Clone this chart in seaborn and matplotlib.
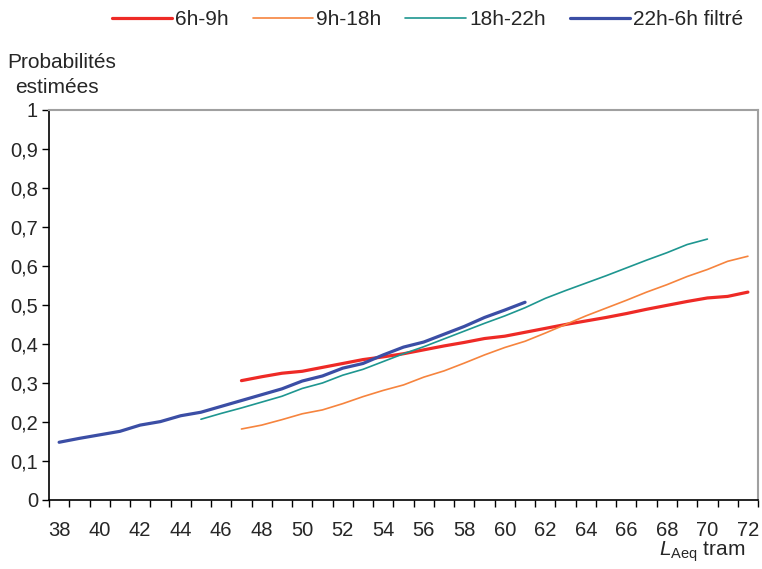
import pandas as pd
import matplotlib.pyplot as plt
import seaborn as sns

# --- Data ---
x_red = list(range(47, 73))
y_red = [0.306, 0.316, 0.325, 0.330, 0.340, 0.350, 0.360, 0.367, 0.375, 0.385,
         0.395, 0.404, 0.414, 0.420, 0.430, 0.440, 0.450, 0.459, 0.468, 0.478,
         0.489, 0.499, 0.509, 0.518, 0.522, 0.533]

x_orange = list(range(47, 73))
y_orange = [0.182, 0.192, 0.206, 0.221, 0.231, 0.247, 0.265, 0.281, 0.295, 0.315,
            0.331, 0.351, 0.372, 0.391, 0.407, 0.428, 0.450, 0.472, 0.492, 0.512,
            0.533, 0.552, 0.573, 0.591, 0.612, 0.625]

x_teal = list(range(45, 71))
y_teal = [0.207, 0.222, 0.236, 0.251, 0.266, 0.286, 0.300, 0.320, 0.335, 0.355,
          0.375, 0.393, 0.413, 0.433, 0.453, 0.472, 0.493, 0.517, 0.537, 0.556,
          0.575, 0.595, 0.615, 0.634, 0.655, 0.669]

x_blue = list(range(38, 62))
y_blue = [0.148, 0.158, 0.167, 0.176, 0.192, 0.201, 0.216, 0.225, 0.240, 0.255,
          0.270, 0.285, 0.305, 0.318, 0.338, 0.350, 0.372, 0.392, 0.405, 0.425,
          0.445, 0.468, 0.487, 0.507]

series_names = ["6h-9h", "9h-18h", "18h-22h", "22h-6h filtré"]
colors = ["#ee2a26", "#f6843e", "#1e9690", "#3b4ea5"]
widths = [2.3, 1.2, 1.2, 2.3]

# long-form table for seaborn
frames = []
for name, xs, ys in zip(series_names,
                        [x_red, x_orange, x_teal, x_blue],
                        [y_red, y_orange, y_teal, y_blue]):
    frames.append(pd.DataFrame({"LAeq": xs, "prob": ys, "serie": name}))
df = pd.concat(frames, ignore_index=True)

sns.set_theme(style="white")
plt.rcParams["font.family"] = ["Liberation Sans", "DejaVu Sans"]
plt.rcParams["mathtext.fontset"] = "custom"
plt.rcParams["mathtext.rm"] = "Liberation Sans"
plt.rcParams["mathtext.it"] = "Liberation Sans:italic"

fig = plt.figure(figsize=(7.62, 5.69), dpi=100)
ax = fig.add_axes([0.0643, 0.1213, 0.9305, 0.6854])

for name, c, w in zip(series_names, colors, widths):
    sub = df[df["serie"] == name]
    sns.lineplot(data=sub, x="LAeq", y="prob", color=c, linewidth=w,
                 label=name, ax=ax, legend=False)

# category-style x axis: ticks between categories, labels every 2
ax.set_xlim(37.5, 72.5)
ax.set_ylim(0, 1)
ax.set_xticks(range(38, 73, 2))
ax.set_xticks([k + 0.5 for k in range(37, 73)], minor=True)
ax.tick_params(axis="x", which="major", length=0, pad=15, labelsize=14.5)
ax.tick_params(axis="x", which="minor", length=5, width=1, color="black",
               direction="out", bottom=True)
ax.set_yticks([i / 10 for i in range(11)])
ax.set_yticklabels(["0"] + [f"0,{i}" for i in range(1, 10)] + ["1"])
ax.tick_params(axis="y", length=5, width=1, color="black", direction="out",
               labelsize=14.5, pad=3, left=True)
for s in ["left", "bottom"]:
    ax.spines[s].set_color("black")
    ax.spines[s].set_linewidth(1.2)
for s in ["top", "right"]:
    ax.spines[s].set_color("#a0a0a0")
    ax.spines[s].set_linewidth(1.5)
ax.set_xlabel("")
ax.set_ylabel("")

# axis titles
fig.text(0.0095, 0.891, "Probabilités", fontsize=15, ha="left", va="center")
fig.text(0.075, 0.847, "estimées", fontsize=15, ha="center", va="center")
fig.text(0.978, 0.03, r"$\mathit{L}_{\mathrm{Aeq}}$ tram", fontsize=15,
         ha="right", va="center")

handles, labels = ax.get_legend_handles_labels()
fig.legend(handles, labels, loc="center right", bbox_to_anchor=(1.0, 0.966),
           ncol=4, frameon=False, fontsize=15, handlelength=2.9,
           handletextpad=0.15, columnspacing=1.15)

fig.savefig("out.png", dpi=100)
